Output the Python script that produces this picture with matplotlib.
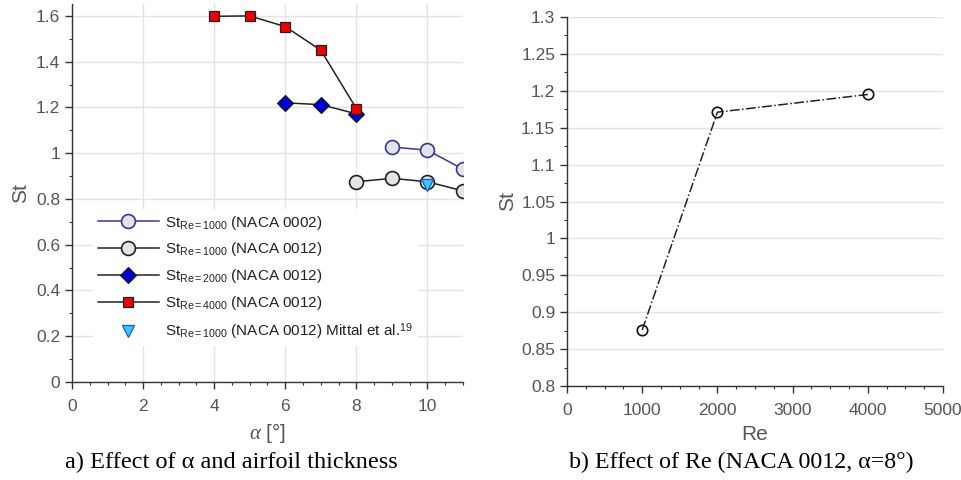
import matplotlib
matplotlib.use("Agg")
import matplotlib.pyplot as plt
from matplotlib.ticker import MultipleLocator, FuncFormatter

plt.rcParams['font.family'] = ['Liberation Sans', 'DejaVu Sans']
plt.rcParams['mathtext.fontset'] = 'custom'
plt.rcParams['mathtext.rm'] = 'Liberation Sans'
plt.rcParams['mathtext.it'] = 'Liberation Serif:italic'

# ---- data: panel a ----
alpha_re4000 = [4, 5, 6, 7, 8]
st_re4000 = [1.598, 1.600, 1.553, 1.450, 1.195]
alpha_re2000 = [6, 7, 8]
st_re2000 = [1.220, 1.212, 1.172]
alpha_re1000_0012 = [8, 9, 10, 11]
st_re1000_0012 = [0.875, 0.890, 0.875, 0.835]
alpha_re1000_0002 = [9, 10, 11]
st_re1000_0002 = [1.027, 1.013, 0.930]
alpha_mittal = [10]
st_mittal = [0.862]

# ---- data: panel b ----
re_values = [1000, 2000, 4000]
st_alpha8 = [0.876, 1.171, 1.195]

labels = [
    r'St$_{\mathregular{Re=1000}}$ (NACA 0002)',
    r'St$_{\mathregular{Re=1000}}$ (NACA 0012)',
    r'St$_{\mathregular{Re=2000}}$ (NACA 0012)',
    r'St$_{\mathregular{Re=4000}}$ (NACA 0012)',
    r'St$_{\mathregular{Re=1000}}$ (NACA 0012) Mittal et al.$^{\mathregular{19}}$',
]

tick_col = '#555555'
spine_col = '#333333'
grid_col = '#e3e3e3'

fig = plt.figure(figsize=(9.62, 4.8), dpi=100)
ax1 = fig.add_axes([0.0748, 0.2042, 0.4065, 0.7875])
ax2 = fig.add_axes([0.5894, 0.1958, 0.3909, 0.7688])

def style(ax):
    for s in ['top', 'right']:
        ax.spines[s].set_visible(False)
    for s in ['left', 'bottom']:
        ax.spines[s].set_color(spine_col)
        ax.spines[s].set_linewidth(1.0)
    ax.tick_params(which='major', direction='out', length=5, width=1,
                   color=spine_col, labelcolor=tick_col, labelsize=12.5)
    ax.tick_params(axis='x', which='major', pad=7)
    ax.tick_params(which='minor', direction='out', length=2.5, width=0.8,
                   color=spine_col)
    ax.set_axisbelow(True)

style(ax1)
style(ax2)

# panel a
ax1.plot(alpha_re1000_0002, st_re1000_0002, '-o', color='#3535a8', lw=1.1,
         ms=10, mfc='#e4e4e4', mec='#3535a8', mew=1.2, label=labels[0], zorder=3)
ax1.plot(alpha_re1000_0012, st_re1000_0012, '-o', color='#222222', lw=1.1,
         ms=10, mfc='#e4e4e4', mec='#222222', mew=1.2, label=labels[1], zorder=3)
ax1.plot(alpha_re2000, st_re2000, '-D', color='#222222', lw=1.1,
         ms=8, mfc='#0000d0', mec='#111111', mew=0.8, label=labels[2], zorder=4)
ax1.plot(alpha_re4000, st_re4000, '-s', color='#222222', lw=1.1,
         ms=7.5, mfc='#ee0000', mec='#222222', mew=0.9, label=labels[3], zorder=5)
ax1.plot(alpha_mittal, st_mittal, 'v', ls='none', ms=9,
         mfc='#33ccff', mec='#2255cc', mew=0.9, label=labels[4], zorder=6)

ax1.set_xlim(0, 11)
ax1.set_ylim(0, 1.652)
ax1.xaxis.set_major_locator(MultipleLocator(2))
ax1.xaxis.set_minor_locator(MultipleLocator(0.5))
ax1.yaxis.set_major_locator(MultipleLocator(0.2))
ax1.yaxis.set_minor_locator(MultipleLocator(0.1))
ax1.yaxis.set_major_formatter(FuncFormatter(lambda v, p: ('%g' % round(v, 2))))
ax1.grid(True, which='major', color=grid_col, lw=1.0)
ax1.set_xlabel(r'$\mathit{\alpha}$ [°]', color=tick_col, fontsize=15, labelpad=5)
ax1.set_ylabel('St', color=tick_col, fontsize=15, labelpad=4)

leg = ax1.legend(loc='upper left', bbox_to_anchor=(0.035, 0.478), frameon=True,
                 fontsize=11, handlelength=4.0, handletextpad=0.4,
                 labelspacing=0.58, borderpad=0.3)
leg.get_frame().set_edgecolor('none')
leg.get_frame().set_facecolor('white')
leg.get_frame().set_alpha(1.0)
for t in leg.get_texts():
    t.set_color('#222222')

# panel b
ax2.plot(re_values, st_alpha8, '-.o', color='#222222', lw=1.1, ms=7.5,
         mfc='none', mec='#111111', mew=1.2, zorder=3)
ax2.set_xlim(0, 5000)
ax2.set_ylim(0.8, 1.3)
ax2.xaxis.set_major_locator(MultipleLocator(1000))
ax2.xaxis.set_minor_locator(MultipleLocator(250))
ax2.yaxis.set_major_locator(MultipleLocator(0.05))
ax2.yaxis.set_minor_locator(MultipleLocator(0.025))
ax2.yaxis.set_major_formatter(FuncFormatter(lambda v, p: ('%g' % round(v, 3))))
ax2.grid(True, which='major', axis='y', color=grid_col, lw=1.0)
ax2.set_xlabel('Re', color=tick_col, fontsize=15, labelpad=5)
ax2.set_ylabel('St', color=tick_col, fontsize=15, labelpad=3)

# captions
fig.text(0.241, 0.037, 'a) Effect of α and airfoil thickness',
         ha='center', va='center', fontsize=17.5, family='Liberation Serif')
fig.text(0.771, 0.037, 'b) Effect of Re (NACA 0012, α=8°)',
         ha='center', va='center', fontsize=17.3, family='Liberation Serif')

fig.savefig('out.png', dpi=100)
